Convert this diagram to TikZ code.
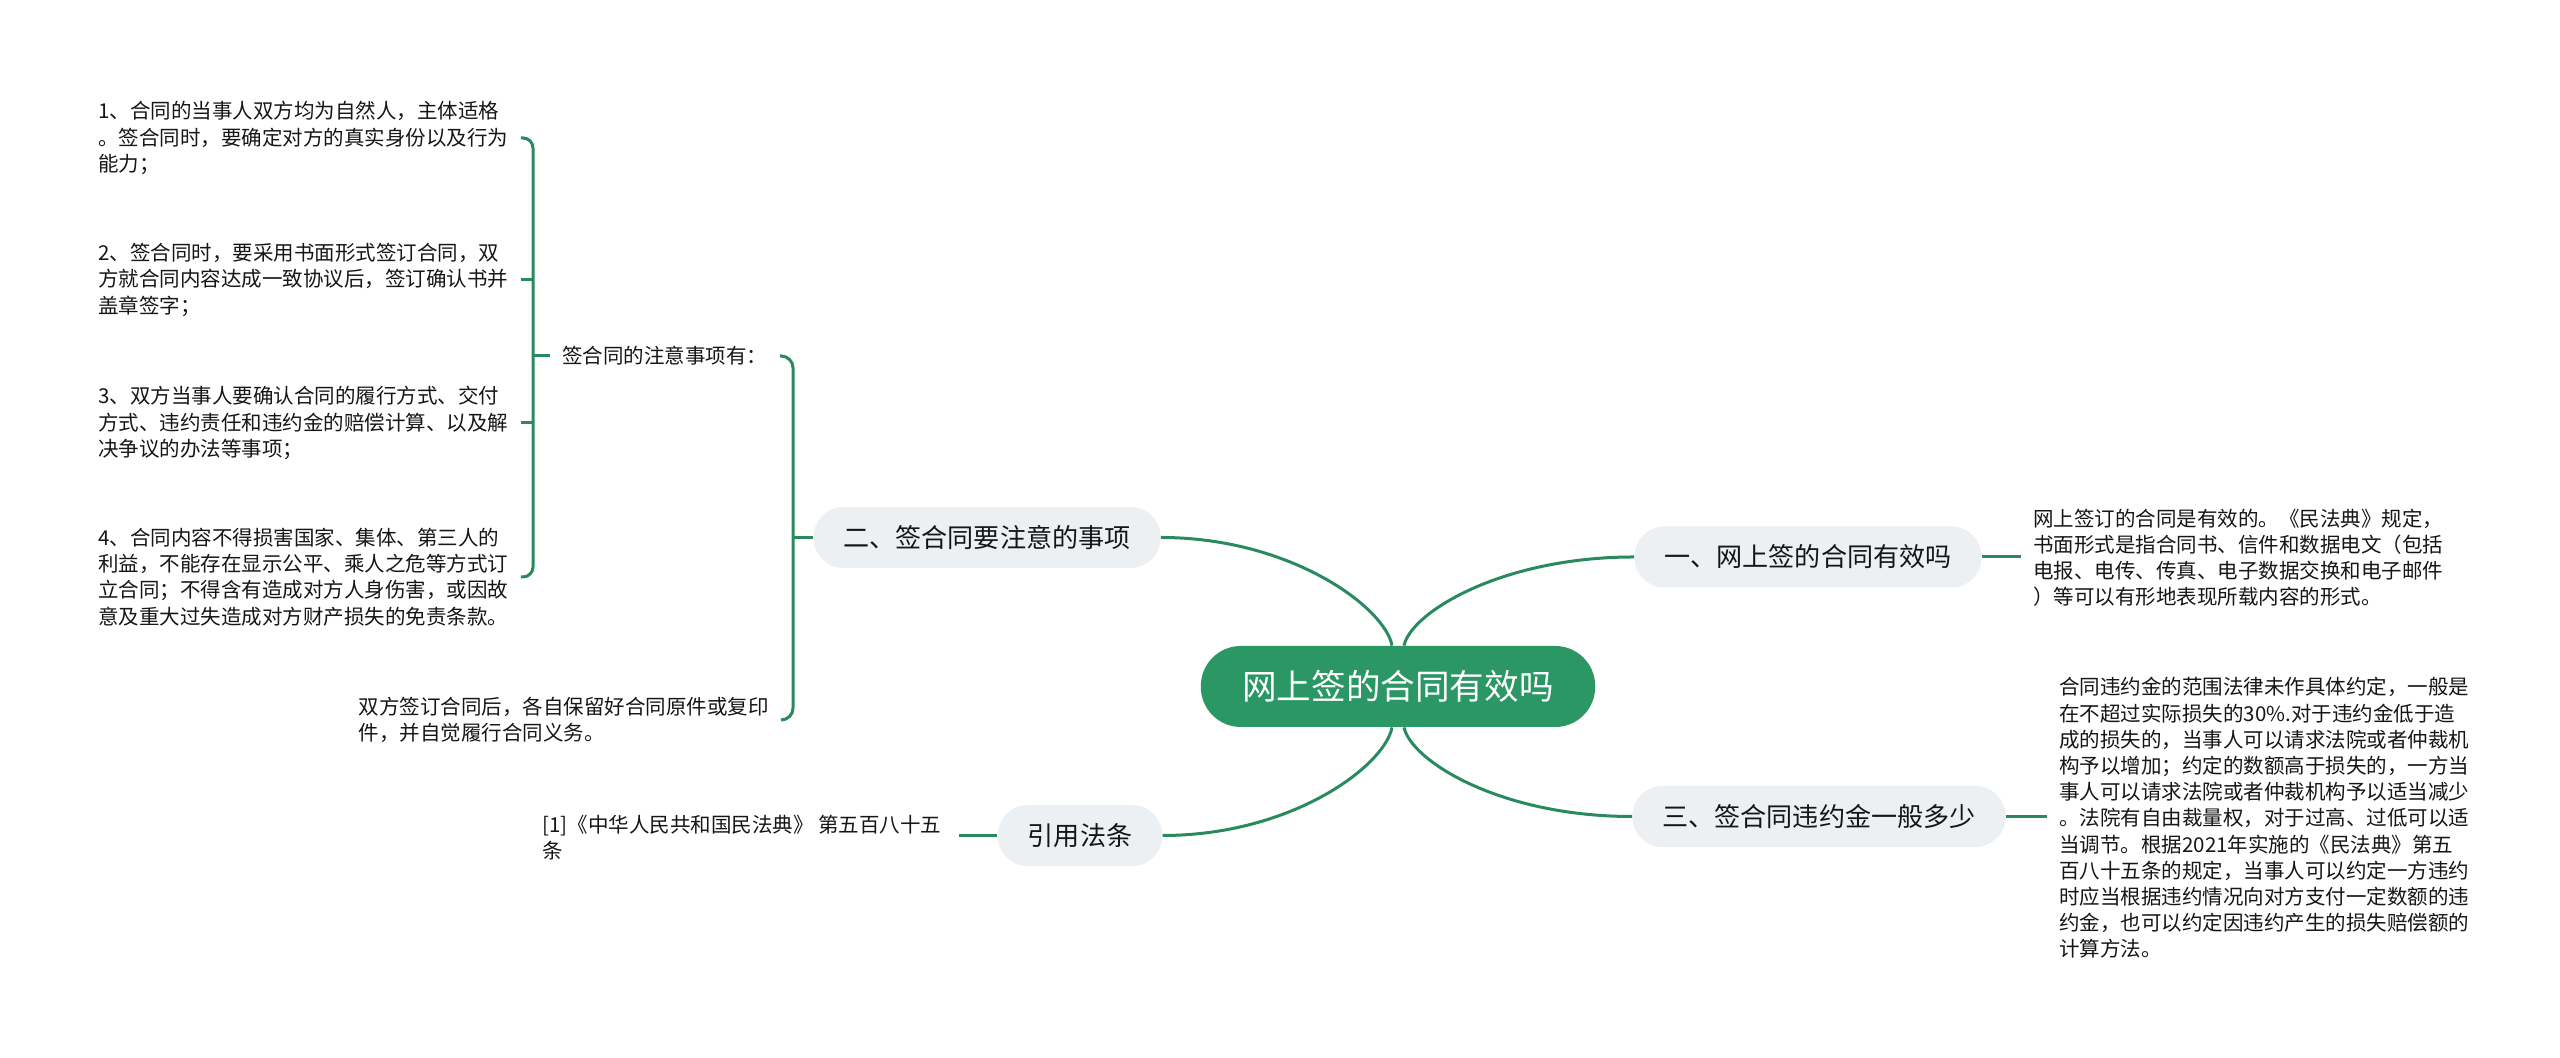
\documentclass[tikz,border=0pt]{standalone}
\usepackage{fontspec}
\setmainfont{Noto Sans CJK SC}
\definecolor{topicgreen}{RGB}{43,151,101}
\definecolor{linegreen}{RGB}{40,138,94}
\definecolor{pillgray}{RGB}{237,240,243}
\definecolor{inkgray}{RGB}{22,22,22}
\begin{document}
\begin{tikzpicture}[x=0.5pt,y=0.5pt,
  topic/.style={fill=topicgreen,text=white,rounded corners=20pt,inner xsep=20.75pt,minimum height=40.5pt,font=\fontsize{17.3pt}{20pt}\selectfont},
  sub/.style={fill=pillgray,text=inkgray,rounded corners=15pt,inner xsep=15pt,minimum height=30.5pt,font=\fontsize{13.05pt}{16pt}\selectfont},
  leaf/.style={text=inkgray,align=left,inner xsep=6pt,inner ysep=3pt,font=\fontsize{10.25pt}{13.1pt}\selectfont},
  branch/.style={draw=linegreen,line width=1.5pt}]
\useasboundingbox (0,0) rectangle (2560,1058);
\fill[white] (0,0) rectangle (2560,1058);
% main topic and first level
  \node[topic] (c) at (1398,371.5) {网上签的合同有效吗};
  \node[sub] (n1) at (1808,501) {一、网上签的合同有效吗};
  \node[sub] (n3) at (1819,241.5) {三、签合同违约金一般多少};
  \node[sub] (n2) at (987,520.5) {二、签合同要注意的事项};
  \node[sub] (nref) at (1080,222.5) {引用法条};
  \draw[branch] ([xshift=3pt]c.north) .. controls +(7,33) and +(-133,0) .. (n1.west);
  \draw[branch] ([xshift=3pt]c.south) .. controls +(7,-33) and +(-133,0) .. (n3.west);
  \draw[branch] ([xshift=-3pt]c.north) .. controls +(-7,38) and +(130,0) .. (n2.east);
  \draw[branch] ([xshift=-3pt]c.south) .. controls +(-7,-38) and +(130,0) .. (nref.east);
% right leaves
  \node[leaf,anchor=west] (t1) at (2021,500) {网上签订的合同是有效的。《民法典》规定，\\书面形式是指合同书、信件和数据电文（包括\\电报、电传、传真、电子数据交换和电子邮件\\）等可以有形地表现所载内容的形式。};
  \node[leaf,anchor=west] (t3) at (2047,240) {合同违约金的范围法律未作具体约定，一般是\\在不超过实际损失的30\%.对于违约金低于造\\成的损失的，当事人可以请求法院或者仲裁机\\构予以增加；约定的数额高于损失的，一方当\\事人可以请求法院或者仲裁机构予以适当减少\\。法院有自由裁量权，对于过高、过低可以适\\当调节。根据2021年实施的《民法典》第五\\百八十五条的规定，当事人可以约定一方违约\\时应当根据违约情况向对方支付一定数额的违\\约金，也可以约定因违约产生的损失赔偿额的\\计算方法。};
  \draw[branch] (n1.east) -- (n1.east -| t1.west);
  \draw[branch] (n3.east) -- (n3.east -| t3.west);
% cited law
  \node[leaf,anchor=west] (tr) at (530,220) {[1]《中华人民共和国民法典》 第五百八十五\\条};
  \coordinate (r0) at ([xshift=-19pt]nref.west);
  \draw[branch] (nref.west) -- (r0);
% left leaves
  \node[leaf,anchor=west] (lab) at (550,702) {签合同的注意事项有：};
  \node[leaf,anchor=east] (t2) at (781,338) {双方签订合同后，各自保留好合同原件或复印\\件，并自觉履行合同义务。};
  \node[leaf,anchor=west] (i1) at (86,920) {1、合同的当事人双方均为自然人，主体适格\\。签合同时，要确定对方的真实身份以及行为\\能力；};
  \node[leaf,anchor=west] (i2) at (86,778) {2、签合同时，要采用书面形式签订合同，双\\方就合同内容达成一致协议后，签订确认书并\\盖章签字；};
  \node[leaf,anchor=west] (i3) at (86,635) {3、双方当事人要确认合同的履行方式、交付\\方式、违约责任和违约金的赔偿计算、以及解\\决争议的办法等事项；};
  \node[leaf,anchor=west] (i4) at (86,481) {4、合同内容不得损害国家、集体、第三人的\\利益，不能存在显示公平、乘人之危等方式订\\立合同；不得含有造成对方人身伤害，或因故\\意及重大过失造成对方财产损失的免责条款。};
% brackets
  \coordinate (s2) at ([xshift=-10pt]n2.west);
  \coordinate (s1) at ([xshift=-8.5pt]lab.west);
  \draw[branch] (n2.west) -- (s2);
  \draw[branch,rounded corners=6pt] (lab.east) -| (s2) |- (t2.east);
  \draw[branch] (lab.west) -- (s1);
  \draw[branch,rounded corners=5pt] (i1.east) -| (s1) |- (i4.east);
  \draw[branch] (i2.east) -- (i2.east -| s1);
  \draw[branch] (i3.east) -- (i3.east -| s1);
\end{tikzpicture}
\end{document}
